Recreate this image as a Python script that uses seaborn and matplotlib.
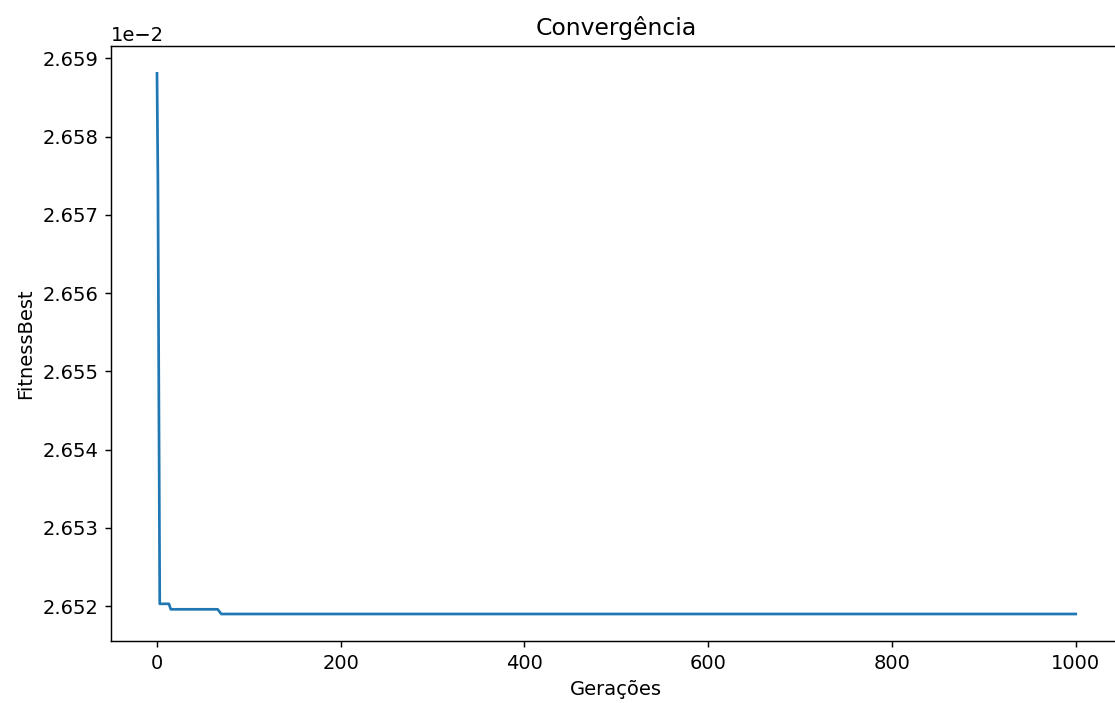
import numpy as np
import matplotlib
matplotlib.use("Agg")
import matplotlib.pyplot as plt
import seaborn as sns

# best fitness per generation (step points only)
geracoes = [0, 1, 3, 13, 15, 66, 70, 1000]
fitness_best = [2.65881e-2, 2.65743e-2, 2.65203e-2, 2.65203e-2,
                2.65196e-2, 2.65196e-2, 2.65190e-2, 2.65190e-2]

plt.rcParams['font.size'] = 10.8

dpi = 130
fig = plt.figure(figsize=(1115 / dpi, 703 / dpi), dpi=dpi)
# axes run a little past the right edge, like the cropped original
ax = fig.add_axes([0.0996, 0.0882, 0.9064, 0.8464])

sns.lineplot(x=geracoes, y=fitness_best, ax=ax, color="C0", linewidth=1.5)

ax.set_xlim(-50, 1050)
ax.set_ylim(2.651555e-2, 2.65916e-2)
ax.set_xticks([0, 200, 400, 600, 800, 1000])
ax.set_yticks(np.array([2.652, 2.653, 2.654, 2.655, 2.656, 2.657, 2.658, 2.659]) * 1e-2)
ax.ticklabel_format(axis="y", style="sci", scilimits=(-2, -2), useOffset=False)

ax.set_title("Convergência", fontsize=13)
ax.set_xlabel("Gerações")
ax.set_ylabel("FitnessBest")

fig.savefig("out.png", dpi=dpi)
